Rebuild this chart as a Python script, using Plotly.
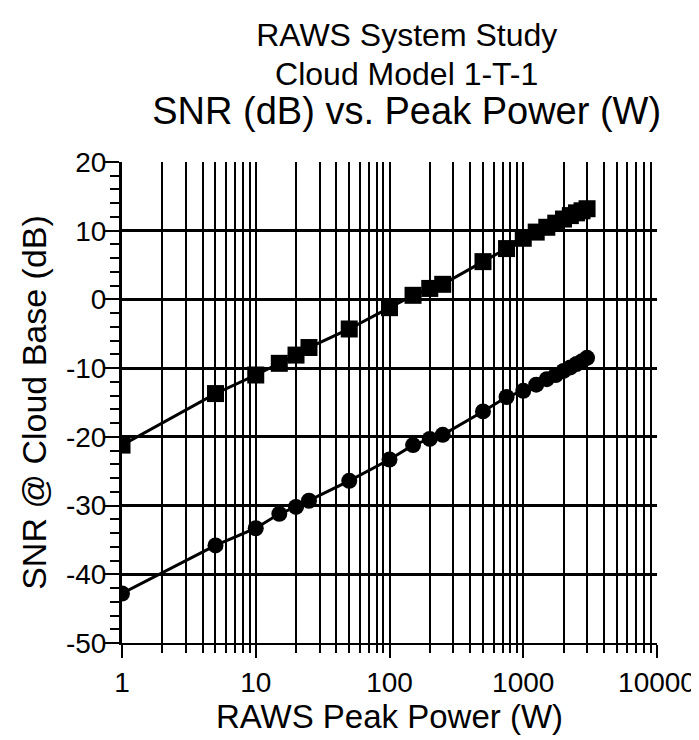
import plotly.graph_objects as go

# Peak power (W)
power = [1, 5, 10, 15, 20, 25, 50, 100, 150, 200, 250, 500, 750,
         1000, 1250, 1500, 1750, 2000, 2250, 2500, 2750, 3000]
# SNR at cloud base (dB) - upper series (squares)
snr_upper = [-21.2, -13.7, -11.0, -9.3, -8.1, -7.0, -4.3, -1.2, 0.6, 1.6, 2.2, 5.5, 7.4,
             8.9, 9.8, 10.5, 11.1, 11.7, 12.2, 12.6, 12.9, 13.2]
# SNR at cloud base (dB) - lower series (circles)
snr_lower = [-42.8, -35.8, -33.3, -31.2, -30.2, -29.3, -26.4, -23.3, -21.2, -20.3, -19.7, -16.3, -14.2,
             -13.3, -12.4, -11.6, -11.0, -10.4, -9.9, -9.4, -9.0, -8.5]

x_major = [1, 10, 100, 1000, 10000]
x_major_text = ["1", "10", "100", "1000", "10000"]
x_minor = [m * d for d in [1, 10, 100, 1000] for m in range(2, 10)]
y_ticks = [-50, -40, -30, -20, -10, 0, 10, 20]
y_tick_text = ["-50", "-40", "-30", "-20", "-10", "0", "10", "20"]

FONT = "Liberation Sans, Arial, Helvetica, sans-serif"

fig = go.Figure()
fig.add_trace(go.Scatter(
    x=power, y=snr_upper, mode="lines+markers",
    line=dict(color="black", width=3),
    marker=dict(symbol="square", size=17, color="black"),
    showlegend=False,
))
fig.add_trace(go.Scatter(
    x=power, y=snr_lower, mode="lines+markers",
    line=dict(color="black", width=3),
    marker=dict(symbol="circle", size=16, color="black"),
    showlegend=False,
))

fig.update_layout(
    width=691, height=732,
    paper_bgcolor="white", plot_bgcolor="white",
    margin=dict(l=114, r=42, t=154, b=97, autoexpand=False),
    font=dict(family=FONT, color="black", size=28),
    title=dict(
        text=("<span style='font-size:32px'>RAWS System Study</span><br>"
              "<span style='font-size:32px'>Cloud Model 1-T-1</span><br>"
              "<span style='font-size:38px'>SNR (dB) vs. Peak Power (W)</span>"),
        x=0.577, xanchor="center", xref="container",
        y=0.948, yanchor="top", yref="container",
        font=dict(family=FONT, size=30, color="black"),
    ),
)

fig.update_xaxes(
    type="log", range=[0, 4], automargin=False,
    tickmode="array", tickvals=x_major, ticktext=x_major_text,
    ticks="outside", ticklen=13, tickwidth=2, tickcolor="black",
    showgrid=True, gridcolor="black", gridwidth=2,
    showline=True, linecolor="black", linewidth=2,
    zeroline=False,
    minor=dict(tickmode="array", tickvals=x_minor, ticks="outside", ticklen=8,
               tickwidth=2, tickcolor="black", showgrid=True,
               gridcolor="black", gridwidth=2),
    tickfont=dict(family=FONT, size=28, color="black"),
    title=dict(text="RAWS Peak Power (W)", font=dict(family=FONT, size=33, color="black"), standoff=4),
)

fig.update_yaxes(
    range=[-50, 20], automargin=False,
    tickmode="array", tickvals=y_ticks, ticktext=["\u00a0" + t for t in y_tick_text],
    ticks="outside", ticklen=15, tickwidth=2, tickcolor="black",
    ticklabelstandoff=-8,
    showgrid=True, gridcolor="black", gridwidth=3,
    showline=True, linecolor="black", linewidth=3,
    zeroline=False,
    minor=dict(tickmode="linear", tick0=-50, dtick=2, ticks="outside", ticklen=9,
               tickwidth=2, tickcolor="black", showgrid=False),
    tickfont=dict(family=FONT, size=28, color="black"),
    title=dict(text="SNR @ Cloud Base (dB)", font=dict(family=FONT, size=34, color="black"), standoff=2),
)

fig.write_html("out.html")
